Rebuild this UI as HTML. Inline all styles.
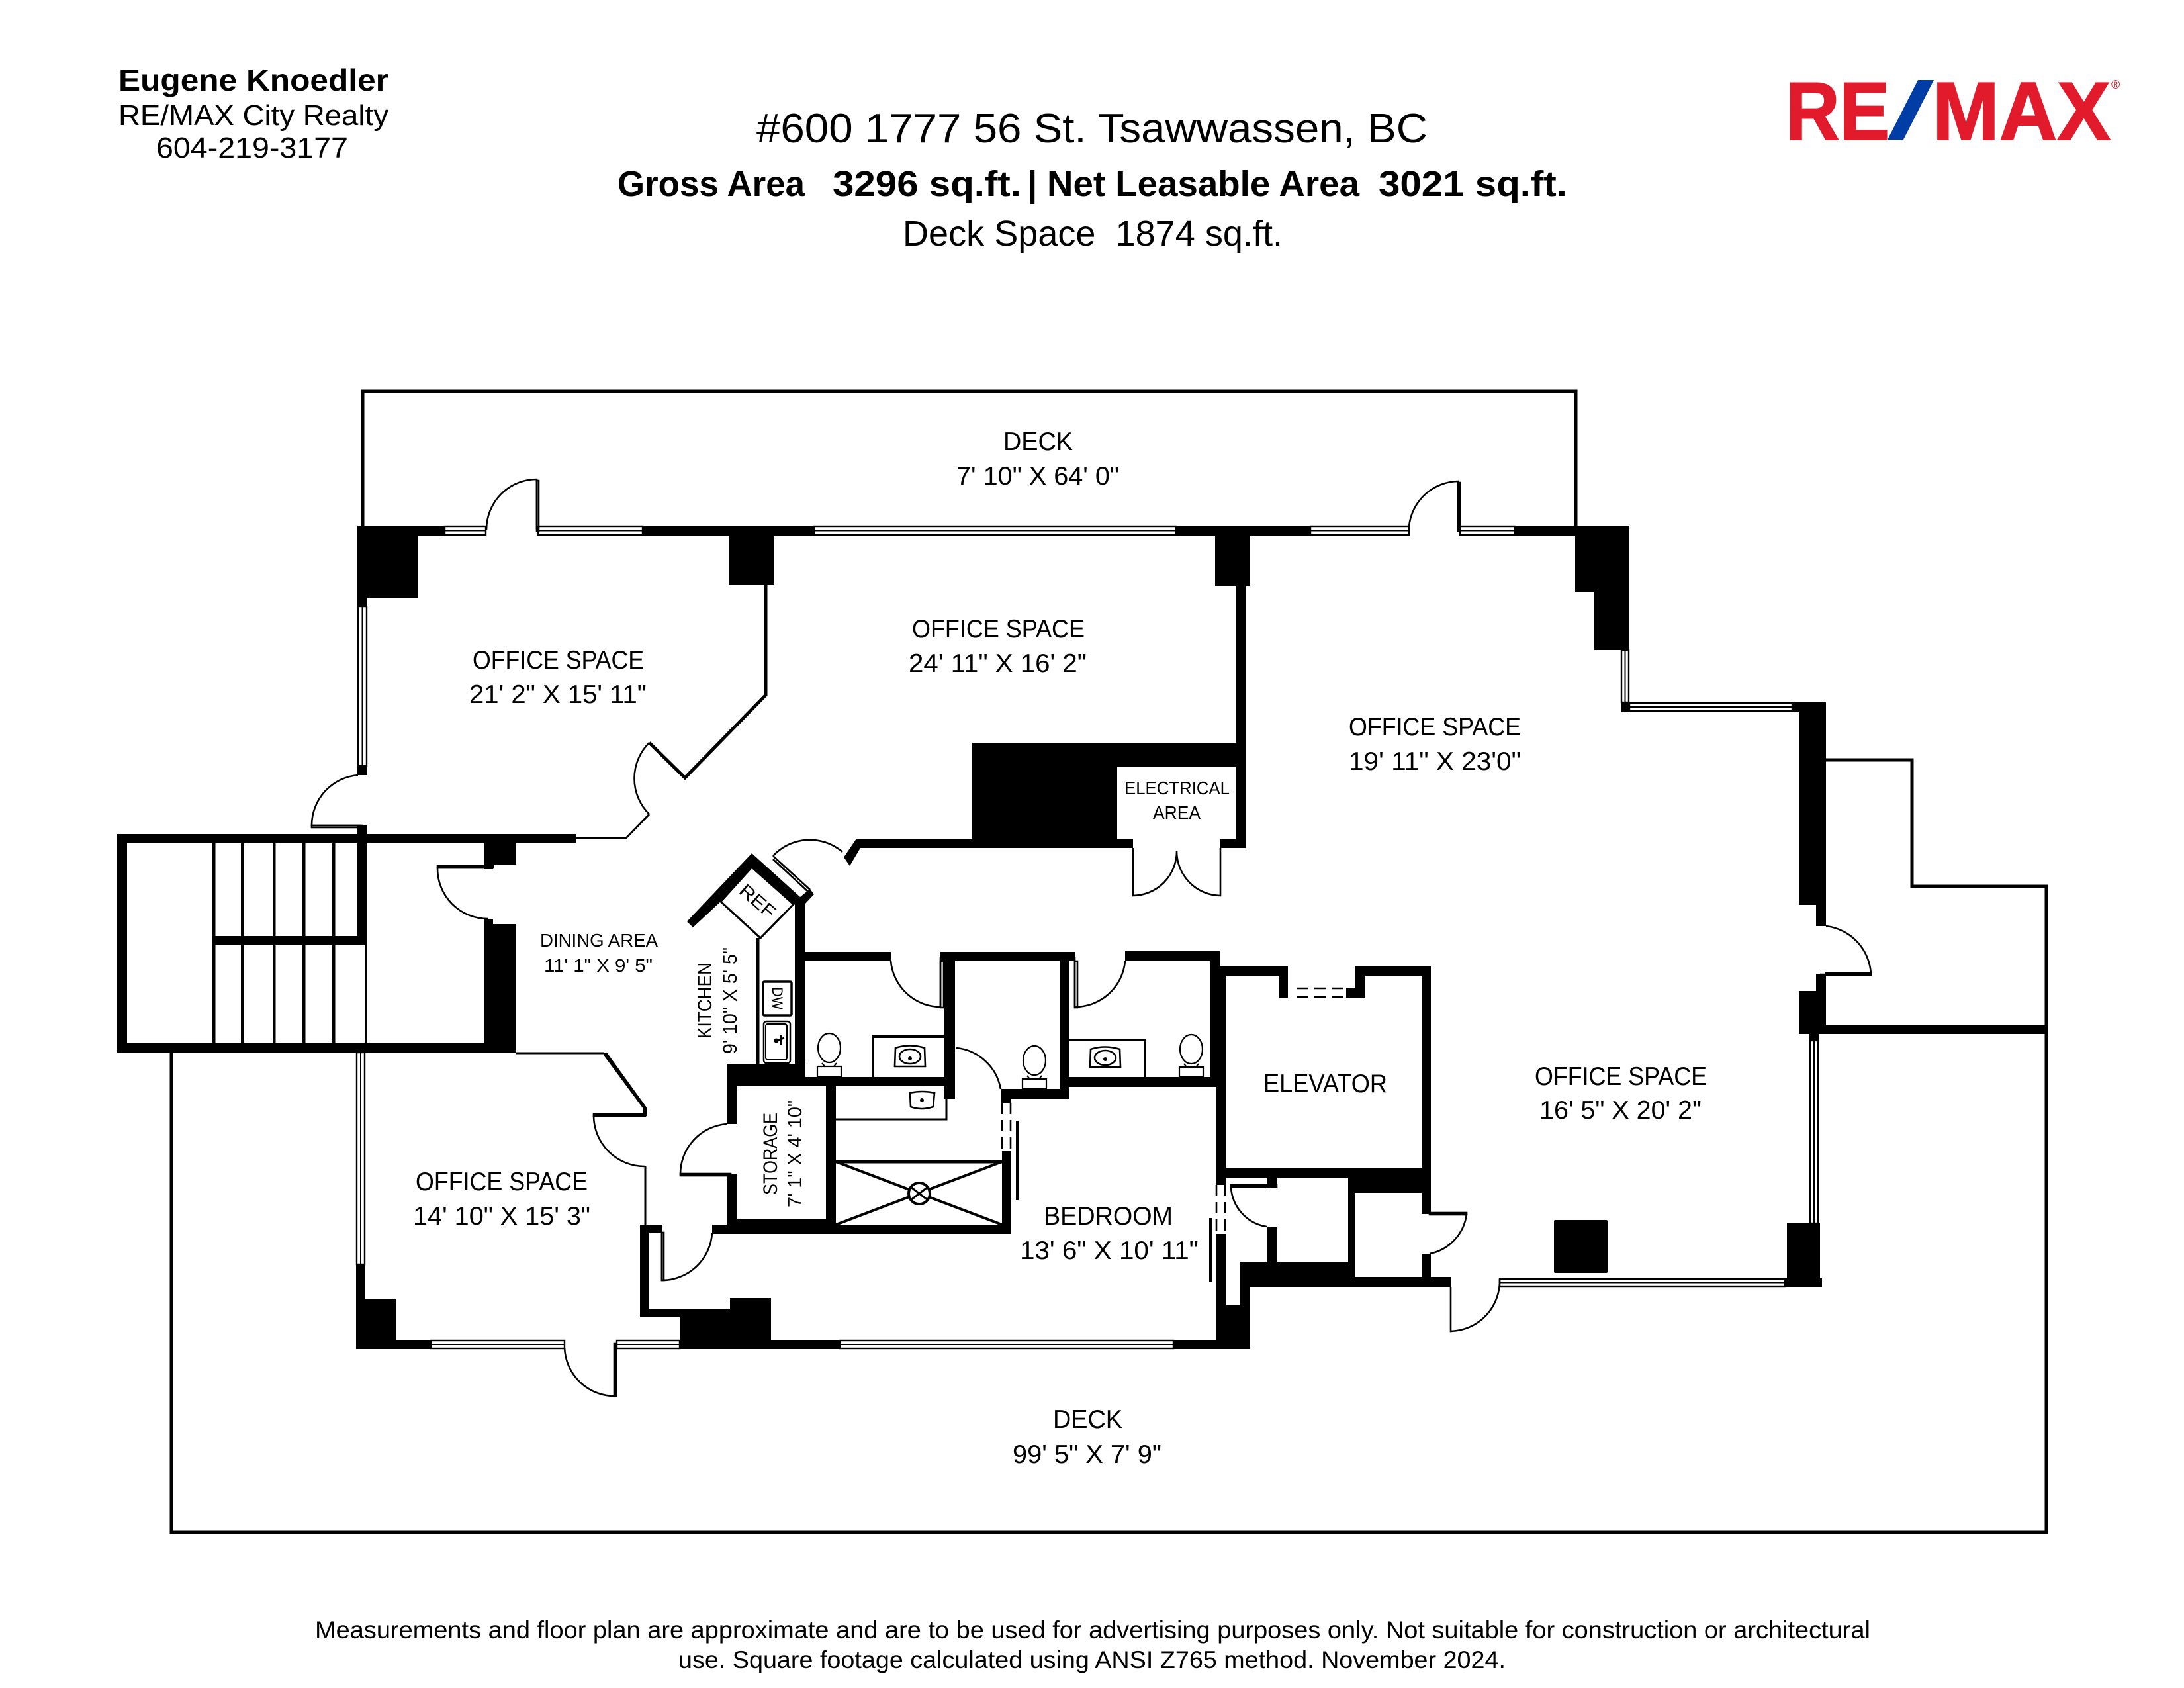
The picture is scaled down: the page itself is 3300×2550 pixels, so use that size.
<!DOCTYPE html>
<html><head><meta charset="utf-8"><title>Floor plan</title>
<style>
html,body{margin:0;padding:0;background:#fff}
svg{display:block}
text{font-family:"Liberation Sans",sans-serif;fill:#000}
.w{fill:none;stroke:#000;stroke-width:2.6}
.g{fill:#fff;stroke:#000;stroke-width:2.4}
.l{fill:none;stroke:#000;stroke-width:5}
.d{fill:none;stroke:#000;stroke-width:3}
.n{fill:none;stroke:#000;stroke-width:2.4}
.da{fill:none;stroke:#000;stroke-width:2.6;stroke-dasharray:17 9}
</style></head><body>
<svg xmlns="http://www.w3.org/2000/svg" width="3300" height="2550" viewBox="0 0 3300 2550">
<rect width="3300" height="2550" fill="#fff"/>

<!-- header -->
<text x="179" y="137" font-size="46" font-weight="700" textLength="408" lengthAdjust="spacingAndGlyphs">Eugene Knoedler</text>
<text x="179" y="189" font-size="44" textLength="408" lengthAdjust="spacingAndGlyphs">RE/MAX City Realty</text>
<text x="236" y="238" font-size="44" textLength="290" lengthAdjust="spacingAndGlyphs">604-219-3177</text>
<text x="1143" y="215" font-size="62" textLength="1014" lengthAdjust="spacingAndGlyphs">#600 1777 56 St. Tsawwassen, BC</text>
<g font-size="54" font-weight="700">
<text x="933" y="296" textLength="283" lengthAdjust="spacingAndGlyphs">Gross Area</text>
<text x="1258" y="296" textLength="285" lengthAdjust="spacingAndGlyphs">3296 sq.ft.</text>
<text x="1553" y="296" textLength="14" lengthAdjust="spacingAndGlyphs">|</text>
<text x="1582" y="296" textLength="472" lengthAdjust="spacingAndGlyphs">Net Leasable Area</text>
<text x="2083" y="296" textLength="285" lengthAdjust="spacingAndGlyphs">3021 sq.ft.</text>
</g>
<text x="1364" y="371" font-size="54" textLength="574" lengthAdjust="spacingAndGlyphs" xml:space="preserve">Deck Space  1874 sq.ft.</text>

<!-- logo -->
<text x="2698" y="211" font-size="124" font-weight="700" style="fill:#e11b2c;stroke:#e11b2c;stroke-width:2" textLength="157" lengthAdjust="spacingAndGlyphs">RE</text>
<polygon points="2898,121 2922,121 2876,211 2852,211" fill="#003da5"/>
<text x="2920" y="211" font-size="124" font-weight="700" style="fill:#e11b2c;stroke:#e11b2c;stroke-width:2" textLength="269" lengthAdjust="spacingAndGlyphs">MAX</text>
<text x="3190" y="134" font-size="18" style="fill:#e11b2c">®</text>

<!-- decks -->
<path class="l" d="M548 794V591H2381V794"/>
<path class="l" d="M2759 1148H2889V1339H3092V2315H259V1590"/>

<!-- black walls -->
<g fill="#000">
<!-- NW column & top wall -->
<polygon points="540,794 672,794 672,809 632,809 632,903 555,903 555,916 540,916"/>
<rect x="971" y="794" width="259" height="15"/>
<rect x="1101" y="809" width="69" height="74"/>
<rect x="1777" y="794" width="203" height="15"/>
<rect x="1836" y="809" width="53" height="76"/>
<rect x="1868" y="885" width="14" height="396"/>
<rect x="2289" y="794" width="93" height="15"/>
<!-- NE column -->
<polygon points="2380,794 2462,794 2462,982 2409,982 2409,895 2380,895"/>
<rect x="2449" y="1061" width="13" height="14"/>
<polygon points="2708,1061 2759,1061 2759,1399 2744,1399 2744,1367 2718,1367 2718,1075 2708,1075"/>
<polygon points="2744,1472 2759,1472 2759,1548 3092,1548 3092,1562 2718,1562 2718,1497 2744,1497"/>
<rect x="2734" y="1562" width="14" height="10"/>
<!-- core block -->
<path d="M1469 1122H1868V1159H1688V1267H1712V1281H1300L1284 1308L1275 1295L1294 1267H1469Z"/>
<rect x="1844" y="1267" width="38" height="14"/>
<!-- stair enclosure -->
<rect x="177" y="1260" width="694" height="14"/>
<rect x="177" y="1260" width="15" height="330"/>
<rect x="177" y="1575" width="603" height="15"/>
<rect x="540" y="1247" width="15" height="180"/>
<rect x="321" y="1414" width="234" height="14"/>
<rect x="540" y="1157" width="15" height="14"/>
<polygon points="731,1274 780,1274 780,1306 745,1306 745,1313 731,1313"/>
<polygon points="731,1388 745,1388 745,1396 780,1396 780,1590 731,1590"/>
<rect x="321" y="1274" width="4.5" height="301"/>
<rect x="364" y="1274" width="4.5" height="301"/>
<rect x="412" y="1274" width="4.5" height="301"/>
<rect x="457" y="1274" width="4.5" height="301"/>
<rect x="502" y="1274" width="4.5" height="301"/>
<rect x="551" y="1428" width="4" height="147"/>
<!-- SW -->
<polygon points="538,1910 552,1910 552,1963 598,1963 598,2024 651,2024 651,2038 538,2038"/>
<polygon points="967,1850 1001,1850 1001,1862 981,1862 981,1977 1103,1977 1103,1961 1165,1961 1165,2024 1269,2024 1269,2038 1027,2038 1027,1990 967,1990"/>
<polygon points="1773,2024 1838,2024 1838,1864 1852,1864 1852,1971 1873,1971 1873,1907 1914,1907 1914,1853 1929,1853 1929,1907 2037,1907 2037,1780 1929,1780 1929,1795 1914,1795 1914,1780 1852,1780 1852,1790 1838,1790 1838,1642 1615,1642 1615,1627 1829,1627 1829,1437 1843,1437 1843,1460 1946,1460 1946,1507 1932,1507 1932,1475 1852,1475 1852,1765 2148,1765 2148,1475 2062,1475 2062,1507 2034,1507 2034,1492 2047,1492 2047,1460 2162,1460 2162,1834 2148,1834 2148,1802 2047,1802 2047,1929 2148,1929 2148,1894 2162,1894 2162,1929 2192,1929 2192,1944 1889,1944 1889,2038 1773,2038"/>
<rect x="1700" y="1437" width="143" height="14"/>
<!-- east bottom -->
<polygon points="2700,1848 2750,1848 2750,1931 2753,1931 2753,1944 2697,1944 2697,1931 2700,1931"/>
<rect x="2348" y="1843" width="81" height="80" rx="2"/>
<!-- kitchen & bath -->
<polygon points="1038,1392 1136,1289 1209,1355 1224,1343 1230,1351 1216,1366 1199,1366 1136,1310 1089,1362 1047,1401"/>
<rect x="1201" y="1362" width="15" height="265"/>
<rect x="1201" y="1438" width="145" height="14"/>
<rect x="1421" y="1438" width="203" height="14"/>
<rect x="1601" y="1438" width="14" height="222"/>
<rect x="1427" y="1438" width="16" height="222"/>
<rect x="1512" y="1645" width="103" height="15"/>
<rect x="1512" y="1645" width="16" height="21"/>
<rect x="1615" y="1627" width="223" height="15"/>
<rect x="1098" y="1607" width="119" height="34"/>
<rect x="1098" y="1627" width="345" height="14"/>
<rect x="1098" y="1641" width="15" height="57"/>
<rect x="1098" y="1774" width="15" height="90"/>
<rect x="1248" y="1641" width="15" height="209"/>
<rect x="1098" y="1841" width="165" height="23"/>
<rect x="1076" y="1850" width="452" height="14"/>
<rect x="1514" y="1739" width="14" height="125"/>
<rect x="1165" y="2024" width="104" height="14"/>
<polygon points="912,1590 917,1590 977,1673 977,1686 972,1686 972,1675 912,1594"/>
</g>

<!-- thin walls -->
<path class="l" d="M1157 883V1050L1035 1175L981 1122"/>
<path class="d" d="M981 1230L946 1266H871"/>
<path class="d" d="M780 1591H912"/>
<path class="d" d="M975 1762V1850"/>
<path class="l" d="M1145 1417V1607"/>
<path class="d" d="M1263 1691H1430V1660"/>
<path class="l" d="M1263 1755H1514"/>
<path class="l" d="M1263 1755L1514 1850M1514 1755L1263 1850" style="stroke-width:4"/>
<circle cx="1389" cy="1803" r="16" fill="#fff" stroke="#000" stroke-width="4"/>
<path class="l" d="M1376 1793L1402 1813M1402 1793L1376 1813" style="stroke-width:3"/>
<path class="l" d="M1537 1693V1813" style="stroke-width:4"/>
<path class="l" d="M1829 1840V1936" style="stroke-width:4"/>

<!-- REF -->
<polygon points="1089,1362 1136,1310 1199,1366 1149,1417" class="g" style="stroke-width:3"/>
<text transform="translate(1145,1361) rotate(41)" font-size="28" text-anchor="middle" y="10" textLength="62" lengthAdjust="spacingAndGlyphs">REF</text>

<!-- windows -->
<g class="g">
<rect x="672" y="795" width="62" height="13"/><rect x="813" y="795" width="158" height="13"/>
<rect x="1230" y="795" width="547" height="13"/><rect x="1980" y="795" width="149" height="13"/>
<rect x="2206" y="795" width="83" height="13"/>
<rect x="2450" y="982" width="11" height="79"/><rect x="2462" y="1062" width="246" height="12"/>
<rect x="541" y="916" width="13" height="241"/><rect x="539" y="1590" width="12" height="320"/>
<rect x="651" y="2025" width="202" height="12"/><rect x="932" y="2025" width="95" height="12"/>
<rect x="1269" y="2025" width="504" height="12"/>
<rect x="2266" y="1932" width="431" height="11"/><rect x="2735" y="1572" width="12" height="276"/>
</g>
<path class="n" d="M672 801.500H734M813 801.500H971M1230 801.500H1777M1980 801.500H2129M2206 801.500H2289M2455.500 982V1061M2462 1068H2708M547.500 916V1157M545 1590V1910M651 2031H853M932 2031H1027M1269 2031H1773M2266 1937.500H2697M2741 1572V1848" style="stroke-width:2"/>

<!-- doors -->
<g class="w">
<path d="M735 800A76 76 0 0 1 811 724V801"/><rect x="811" y="726" width="3" height="76"/>
<path d="M2129 795A76 76 0 0 1 2203 727V801"/><rect x="2203" y="729" width="3" height="73"/>
<path d="M541 1171A76 76 0 0 0 471 1247H548"/><rect x="471" y="1247" width="74" height="3"/>
<path d="M981 1122A76 76 0 0 0 981 1230"/>
<path d="M745 1311H661A76 76 0 0 0 737 1388"/><rect x="661" y="1308" width="84" height="3"/>
<path d="M853 2036A76 76 0 0 0 931 2109V2030"/><rect x="928" y="2030" width="3" height="79"/>
<path d="M1000 1862V1934A76 76 0 0 0 1076 1862"/><rect x="1000" y="1862" width="3" height="72"/>
<path d="M897 1686H975M897 1686A77 77 0 0 0 974 1762"/><rect x="897" y="1683" width="78" height="3"/>
<path d="M1104 1774H1028A76 76 0 0 1 1098 1698"/><rect x="1028" y="1773" width="76" height="3"/>
<path d="M1168 1293L1224 1344M1168 1293A76 76 0 0 1 1273 1287"/><path d="M1168 1298L1221 1347"/>
<path d="M1346 1452A76 76 0 0 0 1421 1521V1445"/><rect x="1421" y="1452" width="5" height="70"/>
<path d="M1700 1452A76 76 0 0 1 1624 1521V1445"/><rect x="1624" y="1452" width="4" height="70"/>
<path d="M1445 1583A76 76 0 0 1 1512 1645"/>
<path d="M1712 1281V1353A67 67 0 0 0 1778 1286A67 67 0 0 0 1844 1353V1281"/>
<path d="M2216 1834H2160M2216 1834A70 70 0 0 1 2160 1894"/><rect x="2160" y="1832" width="56" height="3"/>
<path d="M2192 1944V2011A76 76 0 0 0 2266 1932"/>
<path d="M2759 1399A77 77 0 0 1 2827 1472H2750"/><rect x="2759" y="1470" width="68" height="3"/>
<path d="M1929 1793H1860A64 64 0 0 0 1914 1853"/><rect x="1860" y="1790" width="69" height="3"/>
</g>
<path class="da" d="M1960 1493H2034M1960 1506H2034"/>
<path class="da" d="M1514 1666V1739M1527 1666V1739M1838 1790V1864M1851 1790V1864"/>

<!-- kitchen fixtures -->
<rect x="1153" y="1483" width="43" height="51" rx="2" fill="#fff" stroke="#000" stroke-width="3.500"/>
<text transform="translate(1167,1508) rotate(90)" font-size="22" text-anchor="middle" textLength="34" lengthAdjust="spacingAndGlyphs">DW</text>
<rect x="1154" y="1543" width="40" height="63" rx="4" class="w" style="stroke-width:2.500"/>
<rect x="1157" y="1547" width="32" height="54" rx="3" class="w" style="stroke-width:2"/>
<path d="M1173 1572L1185 1568M1180 1563V1578" stroke="#000" stroke-width="3"/><circle cx="1173" cy="1572" r="3.500"/>

<!-- vanities -->
<path class="l" d="M1319 1627V1566H1428M1616 1571H1730V1628" style="stroke-width:4"/>
<g class="w" style="stroke-width:2.600">
<path d="M1353 1583Q1375 1576 1397 1583L1398 1611H1352Z"/><ellipse cx="1375" cy="1596" rx="16" ry="11"/>
<path d="M1648 1585Q1670 1578 1692 1585L1693 1612H1647Z"/><ellipse cx="1670" cy="1598" rx="16" ry="11"/>
<path d="M1375 1651Q1393 1647 1412 1651L1410 1672Q1393 1678 1376 1672Z"/>
</g>
<circle cx="1375" cy="1599" r="3"/><circle cx="1670" cy="1600" r="3"/><circle cx="1393" cy="1662" r="3"/>

<!-- toilets -->
<g class="w" style="stroke-width:2.200" fill="#fff">
<ellipse cx="1253" cy="1583" rx="17" ry="22"/><rect x="1235" y="1611" width="36" height="16"/><path d="M1242 1606L1246 1611M1264 1606L1260 1611"/>
<ellipse cx="1563" cy="1602" rx="17" ry="22"/><rect x="1545" y="1630" width="36" height="15"/><path d="M1552 1625L1556 1630M1574 1625L1570 1630"/>
<ellipse cx="1800" cy="1585" rx="17" ry="22"/><rect x="1782" y="1612" width="36" height="15"/><path d="M1789 1607L1793 1612M1811 1607L1807 1612"/>
</g>

<!-- labels -->
<g font-size="39" transform="translate(0,-2)">
<text x="1516" y="682" textLength="105" lengthAdjust="spacingAndGlyphs">DECK</text>
<text x="1445" y="734" textLength="246" lengthAdjust="spacingAndGlyphs">7' 10" X 64' 0"</text>
<text x="714" y="1012" textLength="259" lengthAdjust="spacingAndGlyphs">OFFICE SPACE</text>
<text x="709" y="1064" textLength="268" lengthAdjust="spacingAndGlyphs">21' 2" X 15' 11"</text>
<text x="1378" y="965" textLength="261" lengthAdjust="spacingAndGlyphs">OFFICE SPACE</text>
<text x="1373" y="1017" textLength="269" lengthAdjust="spacingAndGlyphs">24' 11" X 16' 2"</text>
<text x="2038" y="1113" textLength="260" lengthAdjust="spacingAndGlyphs">OFFICE SPACE</text>
<text x="2038" y="1165" textLength="260" lengthAdjust="spacingAndGlyphs">19' 11" X 23'0"</text>
<text x="2319" y="1641" textLength="260" lengthAdjust="spacingAndGlyphs">OFFICE SPACE</text>
<text x="2326" y="1692" textLength="245" lengthAdjust="spacingAndGlyphs">16' 5" X 20' 2"</text>
<text x="628" y="1800" textLength="260" lengthAdjust="spacingAndGlyphs">OFFICE SPACE</text>
<text x="624" y="1852" textLength="268" lengthAdjust="spacingAndGlyphs">14' 10" X 15' 3"</text>
<text x="1909" y="1652" textLength="187" lengthAdjust="spacingAndGlyphs">ELEVATOR</text>
<text x="1577" y="1852" textLength="195" lengthAdjust="spacingAndGlyphs">BEDROOM</text>
<text x="1541" y="1904" textLength="270" lengthAdjust="spacingAndGlyphs">13' 6" X 10' 11"</text>
<text x="1591" y="2159" textLength="105" lengthAdjust="spacingAndGlyphs">DECK</text>
<text x="1530" y="2212" textLength="225" lengthAdjust="spacingAndGlyphs">99' 5" X 7' 9"</text>
</g>
<g font-size="28">
<text x="1699" y="1200" textLength="159" lengthAdjust="spacingAndGlyphs">ELECTRICAL</text>
<text x="1742" y="1237" textLength="72" lengthAdjust="spacingAndGlyphs">AREA</text>
<text x="816" y="1430" textLength="178" lengthAdjust="spacingAndGlyphs">DINING AREA</text>
<text x="822" y="1468" textLength="164" lengthAdjust="spacingAndGlyphs">11' 1" X 9' 5"</text>
</g>
<text transform="translate(1075,1569) rotate(-90)" font-size="30" textLength="115" lengthAdjust="spacingAndGlyphs">KITCHEN</text>
<text transform="translate(1113,1592) rotate(-90)" font-size="30" textLength="161" lengthAdjust="spacingAndGlyphs">9' 10" X 5' 5"</text>
<text transform="translate(1174,1805) rotate(-90)" font-size="30" textLength="124" lengthAdjust="spacingAndGlyphs">STORAGE</text>
<text transform="translate(1211,1824) rotate(-90)" font-size="30" textLength="162" lengthAdjust="spacingAndGlyphs">7' 1" X 4' 10"</text>

<!-- footer -->
<text x="476" y="2475" font-size="37" textLength="2350" lengthAdjust="spacingAndGlyphs">Measurements and floor plan are approximate and are to be used for advertising purposes only. Not suitable for construction or architectural</text>
<text x="1025" y="2520" font-size="37" textLength="1250" lengthAdjust="spacingAndGlyphs">use. Square footage calculated using ANSI Z765 method. November 2024.</text>
</svg>
</body></html>
